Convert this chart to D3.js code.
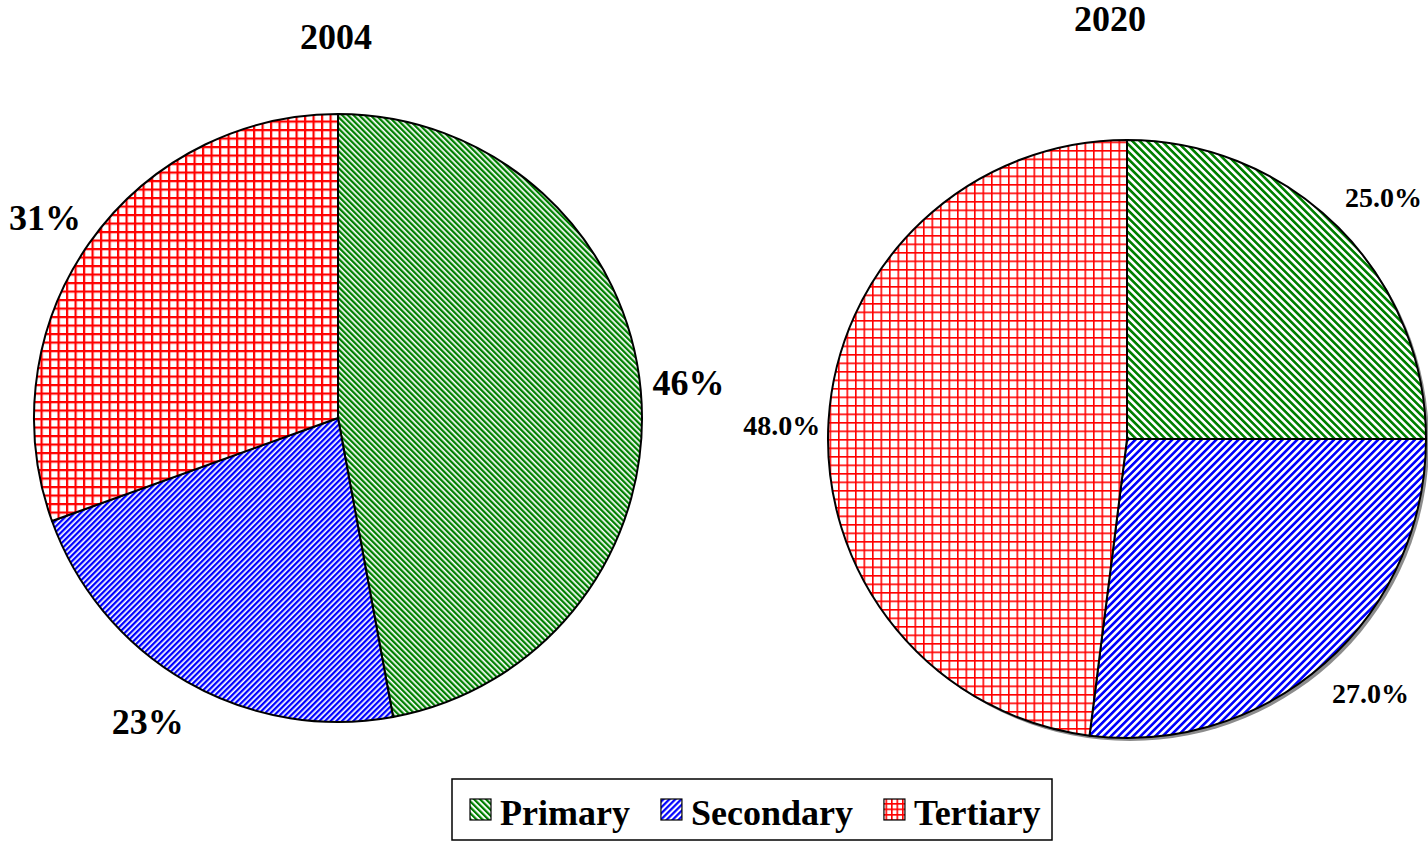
<!DOCTYPE html>
<html>
<head>
<meta charset="utf-8">
<script src="https://cdn.jsdelivr.net/npm/d3@7"></script>
<style>
html,body{margin:0;padding:0;background:#fff;}
svg{display:block;}
text{font-family:"Liberation Serif","Times New Roman",serif;font-weight:bold;fill:#000;}
</style>
</head>
<body>
<svg id="chart" width="1428" height="842"></svg>
<script>
// ---- data ----
const categories = ["Primary", "Secondary", "Tertiary"];
const years = ["2004", "2020"];
const values2004 = [47.1, 22.4, 30.5];
const values2020 = [25.0, 27.0, 48.0];
const labels2004 = ["46%", "23%", "31%"];
const labels2020 = ["25.0%", "27.0%", "48.0%"];

// ---- drawing ----
const svg = d3.select("#chart");
const defs = svg.append("defs");
const colors = {Primary: "#008000", Secondary: "#0000ff", Tertiary: "#ff0000"};

function stripePattern(id, color, period, width, angle) {
  const p = defs.append("pattern").attr("id", id)
    .attr("patternUnits", "userSpaceOnUse")
    .attr("width", period).attr("height", period)
    .attr("patternTransform", `rotate(${angle})`);
  p.append("rect").attr("width", period).attr("height", period).attr("fill", "#fff");
  p.append("rect").attr("width", width).attr("height", period).attr("fill", color);
}
function gridPattern(id, color, cell, width) {
  const p = defs.append("pattern").attr("id", id)
    .attr("patternUnits", "userSpaceOnUse")
    .attr("width", cell).attr("height", cell);
  p.append("rect").attr("width", cell).attr("height", cell).attr("fill", "#fff");
  p.append("rect").attr("width", width).attr("height", cell).attr("fill", color);
  p.append("rect").attr("width", cell).attr("height", width).attr("fill", color);
}
stripePattern("pL0", colors.Primary, 4, 2.3, -45);
stripePattern("pL1", colors.Secondary, 4, 2.3, 45);
gridPattern("pL2", colors.Tertiary, 8.5, 2.2);
stripePattern("pR0", colors.Primary, 5.2, 2.6, -45);
stripePattern("pR1", colors.Secondary, 5.2, 2.6, 45);
gridPattern("pR2", colors.Tertiary, 8.5, 1.6);
stripePattern("pG0", colors.Primary, 4.2, 2.2, -45);
stripePattern("pG1", colors.Secondary, 4.2, 2.2, 45);
gridPattern("pG2", colors.Tertiary, 5.5, 1.6);

const pie = d3.pie().sort(null).value(d => d.v);

function drawPie(cfg) {
  const data = categories.map((c, i) => ({c, v: cfg.values[i], label: cfg.labels[i], i}));
  const arcs = pie(data);
  const g = svg.append("g").attr("transform", `translate(${cfg.cx},${cfg.cy})`);
  if (cfg.shadow) {
    g.append("circle").attr("cx", 3).attr("cy", 3).attr("r", cfg.r)
      .attr("fill", "#8c8c8c");
  }
  const arc = d3.arc().innerRadius(0).outerRadius(cfg.r);
  g.selectAll("path.slice").data(arcs).join("path")
    .attr("class", "slice")
    .attr("d", arc)
    .attr("fill", d => `url(#${cfg.prefix}${d.data.i})`)
    .attr("stroke", "#000").attr("stroke-width", 2).attr("stroke-linejoin", "round");
  const labelArc = d3.arc().innerRadius(cfg.labelR).outerRadius(cfg.labelR);
  g.selectAll("text.lbl").data(arcs).join("text")
    .attr("class", "lbl")
    .attr("x", d => labelArc.centroid(d)[0] + cfg.nudge[d.index][0])
    .attr("y", d => labelArc.centroid(d)[1] + cfg.nudge[d.index][1])
    .attr("dy", "0.35em")
    .attr("text-anchor", "middle")
    .style("font-size", cfg.labelSize + "px")
    .text(d => d.data.label);
  svg.append("text").attr("x", cfg.titleX).attr("y", cfg.titleY)
    .attr("text-anchor", "middle").style("font-size", "36px").text(cfg.title);
}

drawPie({cx: 338, cy: 418, r: 304, values: values2004, labels: labels2004,
  prefix: "pL", labelR: 352, labelSize: 36, title: years[0], titleX: 336, titleY: 49, shadow: false,
  nudge: [[0, -4], [-15, -2], [-5, 2]]});
drawPie({cx: 1127, cy: 439, r: 299, values: values2020, labels: labels2020,
  prefix: "pR", labelR: 350, labelSize: 28, title: years[1], titleX: 1110, titleY: 31, shadow: true,
  nudge: [[9, 6], [12, -8], [4, 8]]});

// legend
const lg = svg.append("g");
lg.append("rect").attr("x", 452).attr("y", 779).attr("width", 600).attr("height", 61)
  .attr("fill", "#fff").attr("stroke", "#000").attr("stroke-width", 1.5);
let x = 470;
categories.forEach((c, i) => {
  lg.append("rect").attr("x", x).attr("y", 799).attr("width", 21).attr("height", 21)
    .attr("fill", `url(#pG${i})`).attr("stroke", "#000").attr("stroke-width", 1.2);
  const t = lg.append("text").attr("x", x + 30).attr("y", 825)
    .style("font-size", "36px").text(c);
  const w = t.node().getComputedTextLength();
  x = x + 30 + w + 31;
});
</script>
</body>
</html>
